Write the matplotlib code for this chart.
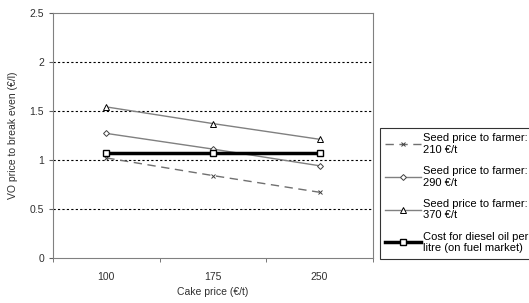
import numpy as np
import matplotlib
matplotlib.use('Agg')
import matplotlib.pyplot as plt

plt.rcParams['font.family'] = ['Liberation Sans', 'DejaVu Sans']

cake_price = ['100', '175', '250']
seed_210 = [1.02, 0.84, 0.67]
seed_290 = [1.27, 1.11, 0.94]
seed_370 = [1.54, 1.37, 1.21]
diesel = [1.07, 1.07, 1.07]
labels = ['Seed price to farmer:\n210 €/t', 'Seed price to farmer:\n290 €/t',
          'Seed price to farmer:\n370 €/t', 'Cost for diesel oil per\nlitre (on fuel market)']
yticks = [0, 0.5, 1, 1.5, 2, 2.5]

fig = plt.figure(figsize=(5.29, 3.03), dpi=100)
ax = fig.add_axes([0.1002, 0.1485, 0.6048, 0.8095])

x = np.arange(len(cake_price))
ax.plot(x, seed_210, color='#707070', lw=1, ls=(0, (6, 4)), marker='x', ms=3.5,
        mec='#404040', mew=0.7, label=labels[0])
ax.plot(x, seed_290, color='#808080', lw=1, marker='D', ms=3, mfc='white',
        mec='#404040', mew=0.7, label=labels[1])
ax.plot(x, seed_370, color='#808080', lw=1, marker='^', ms=4, mfc='white',
        mec='black', mew=0.7, label=labels[2])
ax.plot(x, diesel, color='black', lw=2.5, marker='s', ms=5, mfc='white',
        mec='black', mew=1, label=labels[3])

ax.set_xlim(-0.5, 2.5)
ax.set_ylim(0, 2.5)
ax.set_yticks(yticks)
ax.set_yticklabels(['0', '0.5', '1', '1.5', '2', '2.5'])
ax.set_xticks(x)
ax.set_xticklabels(cake_price)
ax.set_xticks([-0.5, 0.5, 1.5, 2.5], minor=True)
ax.tick_params(axis='x', which='major', length=0, pad=10, labelsize=7.5, colors='#303030')
ax.tick_params(axis='x', which='minor', length=3, direction='out', color='#606060')
ax.tick_params(axis='y', length=3, direction='out', labelsize=7.5, colors='#303030', color='#606060')
for y in yticks[1:-1]:
    ax.axhline(y, color='black', lw=0.8, ls=(0, (2, 2)), zorder=0)
for s in ax.spines.values():
    s.set_color('#808080')
    s.set_linewidth(0.8)

ax.set_xlabel('Cake price (€/t)', fontsize=7.5, color='#303030', labelpad=4)
ax.set_ylabel('VO price to break even (€/l)', fontsize=7.5, color='#303030', labelpad=8)

leg = fig.legend(loc='upper left', bbox_to_anchor=(0.718, 0.578), fontsize=8,
                 frameon=True, fancybox=False, handlelength=3.2, handletextpad=0.2,
                 borderpad=0.5, labelspacing=1.0, borderaxespad=0)
leg.get_frame().set_edgecolor('black')
leg.get_frame().set_linewidth(0.8)

fig.savefig('out.png', dpi=100)
